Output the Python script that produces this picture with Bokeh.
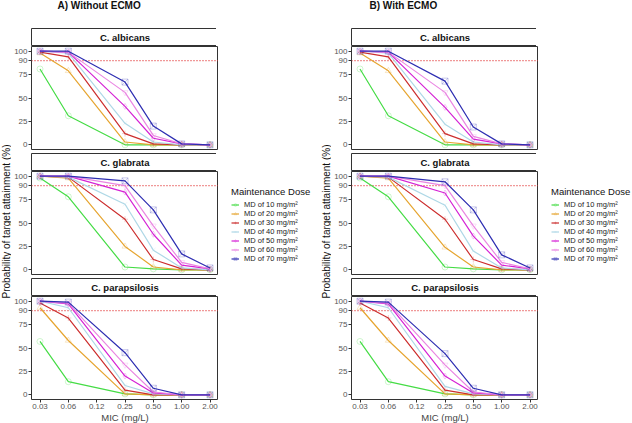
import math
from bokeh.plotting import figure
from bokeh.layouts import row, column
from bokeh.models import Range1d, Span, Label, Legend, LegendItem
from bokeh.embed import file_html
from bokeh.resources import INLINE

# ---- data -------------------------------------------------------------
mic = [0.03125, 0.0625, 0.25, 0.5, 1.0, 2.0]
mic_ticks = [0.03125, 0.0625, 0.125, 0.25, 0.5, 1.0, 2.0]
mic_tick_labels = ["0.03", "0.06", "0.12", "0.25", "0.50", "1.00", "2.00"]
pta_ticks = [0, 25, 50, 75, 90, 100]
target = 90

doses = ["MD of 10 mg/m²", "MD of 20 mg/m²", "MD of 30 mg/m²", "MD of 40 mg/m²",
         "MD of 50 mg/m²", "MD of 60 mg/m²", "MD of 70 mg/m²"]
species = ["C. albicans", "C. glabrata", "C. parapsilosis"]

# probability of target attainment (%), one row per dose, one column per MIC
a_albicans = [
    [81, 31, 0, 0, 0, 0],
    [98, 79, 3, 0, 0, 0],
    [99, 94, 12, 1, 0, 0],
    [100, 98, 23, 3, 0, 0],
    [100, 99, 41, 7, 1, 0],
    [100, 99, 56, 10, 1, 0],
    [100, 100, 67, 20, 1, 0],
]
a_glabrata = [
    [98, 78, 3, 1, 0, 0],
    [100, 98, 25, 3, 0, 0],
    [100, 99, 54, 11, 1, 0],
    [100, 99, 70, 21, 2, 0],
    [100, 100, 83, 38, 5, 1],
    [100, 100, 90, 47, 8, 1],
    [100, 100, 95, 64, 17, 2],
]
a_parapsilosis = [
    [57, 14, 1, 0, 0, 0],
    [93, 58, 1, 0, 0, 0],
    [98, 82, 5, 0, 0, 0],
    [100, 93, 10, 1, 0, 0],
    [100, 97, 20, 2, 0, 0],
    [100, 98, 32, 3, 0, 0],
    [100, 99, 45, 7, 0, 0],
]
b_albicans = [
    [81, 31, 0, 0, 0, 0],
    [98, 79, 3, 0, 0, 0],
    [99, 94, 12, 1, 0, 0],
    [100, 98, 22, 3, 0, 0],
    [100, 99, 40, 6, 1, 0],
    [100, 99, 56, 9, 1, 0],
    [100, 100, 68, 19, 1, 0],
]
b_glabrata = [
    [98, 78, 3, 1, 0, 0],
    [100, 98, 24, 3, 0, 0],
    [100, 99, 54, 11, 1, 0],
    [100, 99, 69, 20, 2, 0],
    [100, 100, 82, 36, 5, 1],
    [100, 100, 90, 47, 8, 1],
    [100, 100, 94, 64, 16, 2],
]
b_parapsilosis = [
    [57, 14, 1, 0, 0, 0],
    [93, 58, 1, 0, 0, 0],
    [98, 82, 5, 0, 0, 0],
    [100, 93, 9, 1, 0, 0],
    [100, 97, 20, 2, 0, 0],
    [100, 98, 32, 3, 0, 0],
    [100, 99, 44, 7, 0, 0],
]

# ---- style ------------------------------------------------------------
colors = ["#45DC45", "#E6A530", "#CC2E2E", "#AED8E6", "#D522D5", "#EA86E2", "#2E2EB2"]
markers = ["circle", "triangle", "cross", "x", "diamond", "inverted_triangle", "square_x"]
FONT = "Liberation Sans"
FW, FH, SH, GAP = 187, 103, 18, 4
TITLE_H, XAXIS_H = 28, 24
YT_W, LEFT = 11, 18
COL_W = LEFT + FW
TOTAL_H = 423


def style_common(p):
    p.grid.visible = False
    p.outline_line_color = "#333333"
    p.outline_line_width = 1
    p.background_fill_color = "white"
    p.border_fill_color = "white"


def blank(width, height):
    """A frame-only canvas used for free-standing text and the legend."""
    p = figure(width=width, height=height, frame_width=width, frame_height=height,
               x_range=Range1d(0, width), y_range=Range1d(0, height),
               x_axis_location=None, y_axis_location=None,
               toolbar_location=None, output_backend="svg", min_border=0)
    p.grid.visible = False
    p.outline_line_color = None
    p.background_fill_color = "white"
    p.border_fill_color = "white"
    return p


def heading(text, x_start):
    p = blank(COL_W, TITLE_H)
    p.add_layout(Label(x=x_start, y=TITLE_H - 5, text=text, text_align="left",
                       text_baseline="middle", text_font=FONT, text_font_size="10px",
                       text_font_style="bold", text_color="#111111"))
    return p


def strip(text):
    p = figure(width=COL_W, height=SH, frame_width=FW, frame_height=SH,
               x_range=Range1d(0, 1), y_range=Range1d(0, 1),
               x_axis_location=None, y_axis_location=None, toolbar_location=None,
               output_backend="svg", min_border_left=LEFT, min_border_right=0,
               min_border_top=0, min_border_bottom=0)
    style_common(p)
    p.add_layout(Label(x=0.5, y=0.5, text=text, text_align="center", text_baseline="middle",
                       text_font=FONT, text_font_size="9.5px", text_font_style="bold",
                       text_color="#111111"))
    return p


def add_series(p, values, visible=True):
    items = []
    for i, vals in enumerate(values):
        ln = p.line(mic, vals, line_color=colors[i], line_width=1.2, visible=visible)
        sc = p.scatter(mic, vals, marker=markers[i], size=6, fill_color=None,
                       line_color=colors[i], line_alpha=0.25, line_width=1,
                       visible=visible)
        items.append(LegendItem(label=doses[i], renderers=[ln, sc]))
    return items


def facet(values, bottom=False):
    bb = XAXIS_H if bottom else GAP
    p = figure(width=COL_W, height=FH + bb, frame_width=FW, frame_height=FH,
               x_axis_type="log",
               x_range=Range1d(2 ** -5.3, 2 ** 1.3), y_range=Range1d(-5, 105),
               x_axis_location="below" if bottom else None,
               toolbar_location=None, output_backend="svg",
               min_border_left=LEFT, min_border_right=0, min_border_top=0,
               min_border_bottom=bb)
    style_common(p)
    p.yaxis.ticker = pta_ticks
    axes = [p.yaxis[0]]
    if bottom:
        p.xaxis.ticker = mic_ticks
        p.xaxis.major_label_overrides = dict(zip(mic_ticks, mic_tick_labels))
        p.xaxis.axis_label = "MIC (mg/L)"
        p.xaxis.axis_label_text_font = FONT
        p.xaxis.axis_label_text_font_size = "9.5px"
        p.xaxis.axis_label_text_font_style = "normal"
        p.xaxis.axis_label_standoff = 0
        axes.append(p.xaxis[0])
    for ax in axes:
        ax.axis_line_color = None
        ax.major_tick_in = 0
        ax.major_tick_out = 3
        ax.minor_tick_in = 0
        ax.minor_tick_out = 0
        ax.major_tick_line_color = "#333333"
        ax.major_label_text_font = FONT
        ax.major_label_text_font_size = "8px"
        ax.major_label_text_color = "#555555"
        ax.major_label_standoff = 1

    p.add_layout(Span(location=target, dimension="width", line_color="#E03030",
                      line_dash="1 2", line_width=1.3, level="underlay"))
    add_series(p, values)
    return p


def legend_panel(width, values):
    p = blank(width, TOTAL_H)
    # key glyphs come from hidden copies of the series
    items = add_series(p, values, visible=False)
    lg = Legend(items=items, title="Maintenance Dose", location=(13, 160),
                orientation="vertical", margin=0, padding=0, spacing=0,
                glyph_width=8, glyph_height=7, label_height=7, label_width=10,
                label_standoff=5, label_text_font=FONT, label_text_font_size="7.5px",
                label_text_color="#222222",
                title_text_font=FONT, title_text_font_size="9.5px",
                title_text_color="#111111",
                title_text_font_style="normal", title_standoff=3,
                border_line_color=None, background_fill_alpha=0,
                inactive_fill_alpha=0)
    p.add_layout(lg, "center")
    return p


def ytitle():
    p = blank(YT_W, TOTAL_H)
    p.add_layout(Label(x=YT_W / 2, y=TOTAL_H - 221, text="Probability of target attainment (%)",
                       angle=math.pi / 2, text_align="center", text_baseline="middle",
                       text_font=FONT, text_font_size="10px", text_color="#111111"))
    return p


def panel(title, title_x, data, legend_w):
    parts = [heading(title, title_x)]
    for k, (name, vals) in enumerate(zip(species, data)):
        parts.append(strip(name))
        parts.append(facet(vals, bottom=(k == 2)))
    return row(ytitle(), column(*parts, spacing=0), legend_panel(legend_w, data[1]),
               spacing=0)


pa = panel("A) Without ECMO", LEFT + 8, [a_albicans, a_glabrata, a_parapsilosis], 102)
pb = panel("B) With ECMO", LEFT, [b_albicans, b_glabrata, b_parapsilosis], 98)
layout = row(pa, pb, spacing=0)

open("out.html", "w").write(file_html(layout, INLINE))
